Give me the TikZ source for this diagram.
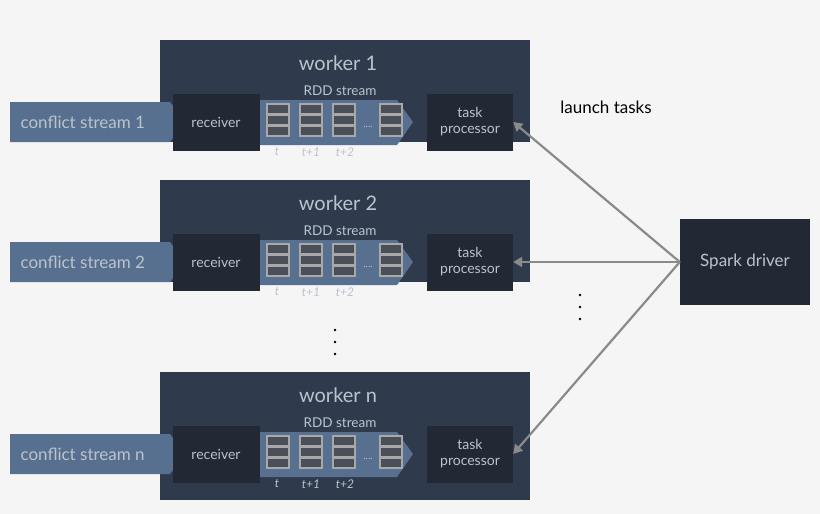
\documentclass[tikz,border=0pt]{standalone}
\usepackage{fontspec}
\setmainfont{Lato}
\usetikzlibrary{arrows.meta}
\definecolor{bgc}{HTML}{F5F5F5}
\definecolor{workerc}{HTML}{2F3A4D}
\definecolor{boxc}{HTML}{222834}
\definecolor{streamc}{HTML}{57708F}
\definecolor{cellc}{HTML}{A8A8A8}
\definecolor{cellin}{HTML}{4A4F57}
\definecolor{txtc}{HTML}{BCC3CD}
\definecolor{linkc}{HTML}{8A8A8A}
\begin{document}
\begin{tikzpicture}[x=1pt,y=-1pt,
    worker/.style={draw=none,fill=workerc},
    box/.style={fill=boxc,text=txtc,align=center,font=\fontsize{14}{16}\selectfont},
    stream/.style={fill=streamc},
    cell/.style={draw=cellc,fill=cellin,line width=1.5pt},
    lbl/.style={text=txtc,font=\fontsize{12}{13}\selectfont\itshape},
    link/.style={draw=linkc,line width=2.2pt,-{Triangle[length=9pt,width=10pt]}},
]
\fill[bgc] (0,0) rectangle (820,514);

% workers
\foreach \n/\y/\h in {1/0/102,2/140/102,n/332/128}{
  \begin{scope}[yshift=-\y pt]
    \fill[worker] (160,40) rectangle ++(370,\h);
    \node[text=txtc,font=\fontsize{20}{22}\selectfont] at (338,63)
      {worker \ifx\n n\textit{n}\else\n\fi};
    \fill[stream] (10,102) -- (170,102) -- (185,122) -- (170,142) -- (10,142) -- cycle;
    \node[text=txtc,font=\fontsize{17}{19}\selectfont,anchor=west] at (17,122)
      {conflict stream \ifx\n n\textit{n}\else\n\fi};
    \fill[stream] (260,100) -- (397,100) -- (413,122) -- (397,145) -- (260,145) -- cycle;
    \node[text=txtc,font=\fontsize{13.5}{15}\selectfont] at (340,91) {RDD stream};
    \foreach \cx in {267,300,333,380}{
      \foreach \r in {0,1,2}{
        \draw[cell] (\cx,104+\r*11) rectangle ++(22,10);
      }
    }
    \node[text=txtc] at (368,127) {....};
    \node[lbl] at (277,152) {t};
    \node[lbl] at (311,152) {t+1};
    \node[lbl] at (345,152) {t+2};
  \end{scope}
}

\node[box,minimum width=87pt,minimum height=57pt] (rec1) at (216,122) {receiver};
\node[box,minimum width=87pt,minimum height=57pt] (rec2) at (216,262) {receiver};
\node[box,minimum width=87pt,minimum height=57pt] (recn) at (216,454) {receiver};
\node[box,minimum width=86pt,minimum height=57pt] (tp1) at (470,122) {task\\processor};
\node[box,minimum width=86pt,minimum height=57pt] (tp2) at (470,262) {task\\processor};
\node[box,minimum width=86pt,minimum height=57pt] (tpn) at (470,454) {task\\processor};

\node[box,minimum width=130pt,minimum height=86pt,font=\fontsize{17}{19}\selectfont] (driver) at (745,262) {Spark driver};

\draw[link] (driver.west) -- (tp1.east);
\draw[link] (driver.west) -- (tp2.east);
\draw[link] (driver.west) -- (tpn.east);

\node[font=\fontsize{17}{19}\selectfont] at (606,107) {launch tasks};
\foreach \d in {-12,0,12}{
  \fill (580,307+\d) circle (1.3);
  \fill (335,342+\d) circle (1.3);
}
\end{tikzpicture}
\end{document}
